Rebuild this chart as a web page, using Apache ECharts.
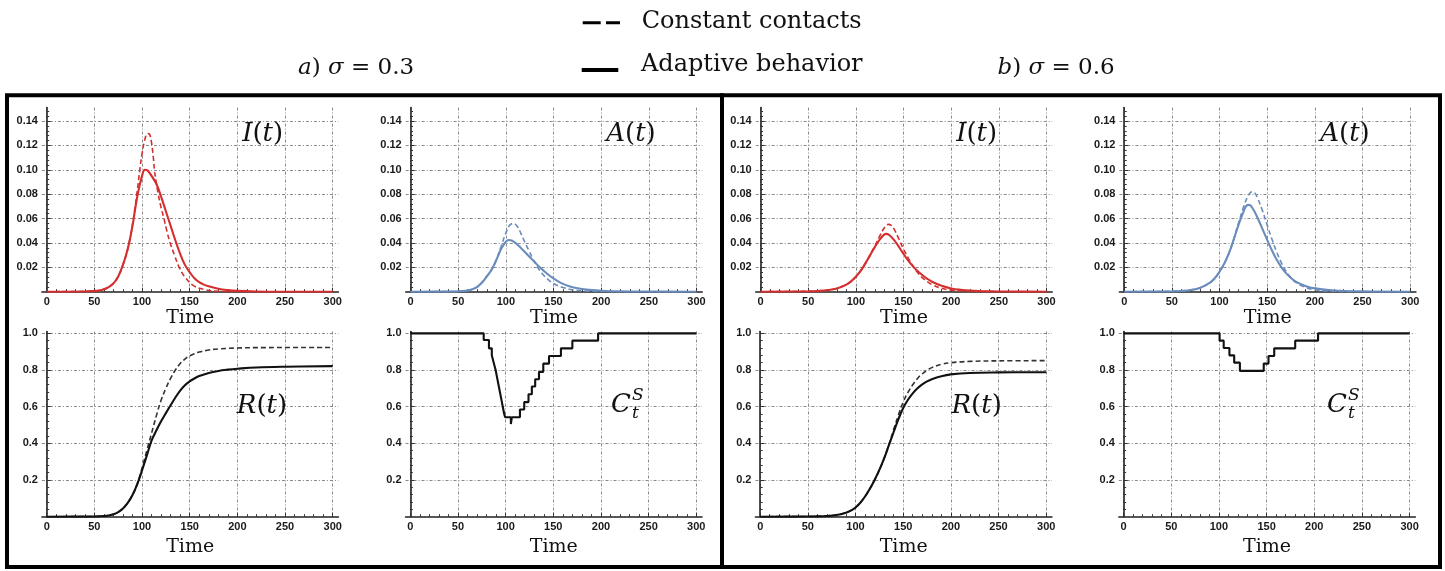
<!DOCTYPE html>
<html><head><meta charset="utf-8">
<script src="https://cdn.jsdelivr.net/npm/echarts@6.0.0/dist/echarts.min.js"></script>
<style>html,body{margin:0;padding:0;background:#fff}#c{width:1445px;height:571px}</style>
</head><body><div id="c"></div>
<script>
// ---------- data ----------
const timeTicks = [0, 50, 100, 150, 200, 250, 300];
const topTickLabels = [0.02, 0.04, 0.06, 0.08, 0.10, 0.12, 0.14];
const bottomTickLabels = [0.2, 0.4, 0.6, 0.8, 1.0];

// a) sigma = 0.3
const s03_I_adaptive = [[0,0],[40,0.0002],[50,0.0006],[55,0.001],[60,0.002],[65,0.0038],[70,0.0068],[75,0.0125],[80,0.022],[85,0.035],[90,0.054],[95,0.078],[100,0.095],[103,0.1],[106,0.0993],[110,0.095],[115,0.0885],[120,0.078],[125,0.066],[130,0.054],[135,0.042],[140,0.031],[145,0.022],[150,0.016],[155,0.011],[160,0.0078],[165,0.0058],[170,0.0044],[180,0.0024],[190,0.0013],[200,0.0007],[220,0.0002],[240,0],[300,0]];
const s03_I_constant = [[0,0],[40,0.0002],[50,0.0006],[55,0.001],[60,0.002],[65,0.0038],[70,0.0068],[75,0.0125],[80,0.022],[85,0.035],[90,0.055],[95,0.083],[98,0.102],[100,0.113],[103,0.125],[106,0.1298],[108,0.129],[110,0.122],[112,0.109],[113,0.1],[115,0.089],[117,0.08],[120,0.069],[123,0.06],[126,0.05],[129.5,0.04],[134,0.03],[139,0.02],[145,0.012],[154,0.005],[165,0.0018],[180,0.0004],[200,0],[300,0]];
const s03_A_adaptive = [[0,0],[40,0.0001],[50,0.0003],[55,0.0006],[60,0.001],[65,0.002],[70,0.004],[75,0.0075],[80,0.0125],[85,0.018],[90,0.026],[95,0.035],[100,0.041],[103,0.0424],[106,0.042],[110,0.04],[115,0.0365],[120,0.0325],[125,0.0285],[130,0.0245],[135,0.0205],[140,0.017],[145,0.0137],[150,0.011],[155,0.0085],[160,0.0064],[165,0.0048],[170,0.0037],[180,0.0022],[190,0.0013],[200,0.0008],[220,0.0003],[250,0.0001],[300,0]];
const s03_A_constant = [[0,0],[40,0.0001],[50,0.0003],[55,0.0006],[60,0.001],[65,0.002],[70,0.004],[75,0.0075],[80,0.0125],[85,0.018],[90,0.026],[95,0.037],[100,0.048],[104,0.0545],[108,0.056],[112,0.0535],[116,0.0475],[120,0.0405],[124,0.034],[128,0.0275],[133,0.0205],[138,0.015],[145,0.0095],[150,0.0068],[155,0.0048],[160,0.0034],[170,0.0016],[180,0.0008],[190,0.0004],[210,0.0001],[230,0],[300,0]];
const s03_R_adaptive = [[0,0],[40,0.0004],[50,0.001],[60,0.004],[65,0.007],[70,0.013],[75,0.025],[80,0.045],[85,0.075],[90,0.118],[95,0.178],[100,0.252],[105,0.333],[110,0.415],[115,0.47],[120,0.52],[125,0.565],[130,0.608],[135,0.65],[140,0.688],[145,0.717],[150,0.738],[155,0.754],[160,0.767],[170,0.784],[180,0.795],[190,0.802],[200,0.807],[220,0.814],[250,0.818],[300,0.821]];
const s03_R_constant = [[0,0],[40,0.0004],[50,0.001],[60,0.004],[65,0.007],[70,0.013],[75,0.025],[80,0.045],[85,0.075],[90,0.118],[95,0.178],[100,0.265],[105,0.36],[110,0.455],[115,0.55],[120,0.635],[125,0.7],[130,0.755],[135,0.8],[140,0.835],[145,0.86],[150,0.877],[160,0.898],[170,0.909],[180,0.915],[200,0.92],[220,0.922],[300,0.923]];
const s03_C = [[0,1],[77,0.964],[82.5,0.918],[85.5,0.88],[87.5,0.84],[89.5,0.8],[91,0.76],[92.5,0.72],[94,0.68],[95.5,0.64],[97,0.6],[98.5,0.56],[99.5,0.542],[105.5,0.505],[106.5,0.542],[115,0.585],[119.5,0.625],[124,0.668],[127.5,0.71],[131,0.75],[135,0.79],[139.5,0.835],[145.5,0.876],[158,0.918],[170,0.96],[197,1],[300,1]];

// b) sigma = 0.6
const s06_I_adaptive = [[0,0],[50,0.0003],[60,0.0006],[70,0.0012],[80,0.0026],[90,0.0058],[95,0.0085],[100,0.0122],[105,0.017],[110,0.0232],[115,0.03],[120,0.0368],[125,0.0428],[130,0.047],[132,0.0474],[135,0.0465],[140,0.0425],[145,0.037],[150,0.031],[155,0.0255],[160,0.0208],[165,0.0168],[170,0.0135],[175,0.0106],[180,0.0082],[190,0.0048],[200,0.0027],[210,0.0016],[220,0.001],[240,0.0003],[270,0.0001],[300,0]];
const s06_I_constant = [[0,0],[50,0.0003],[60,0.0006],[70,0.0012],[80,0.0026],[90,0.0058],[95,0.0085],[100,0.0122],[105,0.017],[110,0.0232],[115,0.0302],[120,0.0375],[125,0.0455],[130,0.0525],[134,0.0552],[137,0.0545],[140,0.0515],[145,0.0435],[150,0.035],[155,0.0275],[160,0.021],[165,0.0155],[170,0.0113],[175,0.0082],[180,0.0058],[190,0.0028],[200,0.0013],[220,0.0003],[240,0.0001],[260,0],[300,0]];
const s06_A_adaptive = [[0,0],[50,0.0003],[60,0.0007],[70,0.0014],[80,0.0033],[90,0.0074],[95,0.011],[100,0.0164],[105,0.0232],[110,0.0318],[115,0.043],[120,0.055],[125,0.0652],[128.5,0.0708],[131,0.0712],[135,0.068],[140,0.0605],[145,0.0515],[150,0.0425],[155,0.0338],[160,0.0262],[165,0.02],[170,0.015],[175,0.0112],[180,0.0083],[190,0.0047],[200,0.0027],[220,0.001],[250,0.0003],[300,0]];
const s06_A_constant = [[0,0],[50,0.0003],[60,0.0007],[70,0.0014],[80,0.0033],[90,0.0074],[95,0.011],[100,0.0164],[105,0.0232],[110,0.0318],[115,0.0435],[120,0.0565],[125,0.069],[130,0.0785],[134,0.082],[137,0.081],[140,0.0765],[145,0.0665],[150,0.0545],[155,0.043],[160,0.0325],[165,0.0235],[170,0.0165],[175,0.0113],[180,0.0077],[190,0.0035],[200,0.0016],[210,0.0007],[230,0.0001],[250,0],[300,0]];
const s06_R_adaptive = [[0,0],[50,0.001],[60,0.002],[70,0.004],[80,0.009],[90,0.022],[95,0.033],[100,0.05],[105,0.076],[110,0.11],[115,0.152],[120,0.2],[125,0.255],[130,0.318],[135,0.39],[140,0.462],[145,0.532],[150,0.593],[155,0.638],[160,0.673],[165,0.701],[170,0.722],[175,0.738],[180,0.75],[190,0.766],[200,0.776],[220,0.784],[250,0.787],[300,0.788]];
const s06_R_constant = [[0,0],[50,0.001],[60,0.002],[70,0.004],[80,0.009],[90,0.022],[95,0.033],[100,0.05],[105,0.076],[110,0.11],[115,0.152],[120,0.2],[125,0.255],[130,0.318],[135,0.392],[140,0.475],[145,0.555],[150,0.625],[155,0.678],[160,0.72],[165,0.754],[170,0.779],[175,0.798],[180,0.813],[190,0.831],[200,0.84],[220,0.847],[250,0.85],[300,0.851]];
const s06_C = [[0,1],[100.7,0.96],[105,0.92],[111,0.88],[116,0.84],[122,0.795],[147,0.835],[152,0.876],[158,0.918],[180,0.96],[204,1],[300,1]];

// ---------- layout / style ----------
const SERIF = '"DejaVu Serif", "Liberation Serif", serif';
const SANS = '"Liberation Sans", Arial, sans-serif';
const RED = '#d42f2f', BLUE = '#6a8cbc', BLACK = '#111111';
const X_MIN = -5, X_MAX = 306, PX_PER_T = 0.9533;

function minorValues(max, step, majorStep) {
  const out = [];
  for (let k = 1; k * step < max - 1e-9; k++) {
    const v = +(k * step).toFixed(6);
    const r = v / majorStep;
    if (Math.abs(r - Math.round(r)) > 1e-6) out.push(v);
  }
  return out;
}
const rows = [
  {top: 107.6, height: 184.1, max: 0.151, major: topTickLabels, minor: minorValues(0.151, 0.004, 0.02), digits: 2, nameGap: 17},
  {top: 331.5, height: 185.2, max: 1.01, major: bottomTickLabels, minor: minorValues(1.01, 0.04, 0.2), digits: 1, nameGap: 21}
];
const xMinor = minorValues(X_MAX, 10, 50);

const panels = [
  {x0: 46.7, row: 0, lines: [[s03_I_adaptive, RED, false], [s03_I_constant, RED, true]]},
  {x0: 410.5, row: 0, lines: [[s03_A_adaptive, BLUE, false], [s03_A_constant, BLUE, true]]},
  {x0: 46.7, row: 1, lines: [[s03_R_adaptive, BLACK, false], [s03_R_constant, '#333', true]]},
  {x0: 410.3, row: 1, lines: [[s03_C, BLACK, false, true]]},
  {x0: 760.5, row: 0, lines: [[s06_I_adaptive, RED, false], [s06_I_constant, RED, true]]},
  {x0: 1124.2, row: 0, lines: [[s06_A_adaptive, BLUE, false], [s06_A_constant, BLUE, true]]},
  {x0: 760.2, row: 1, lines: [[s06_R_adaptive, BLACK, false], [s06_R_constant, '#333', true]]},
  {x0: 1123.6, row: 1, lines: [[s06_C, BLACK, false, true]]}
];

const gridLine = {color: '#8a8a8a', width: 1, type: [3, 2, 1, 2]};
const grid = [], xAxis = [], yAxis = [], series = [];
panels.forEach((p, i) => {
  const r = rows[p.row];
  grid.push({left: p.x0 - 5 * PX_PER_T, width: 311 * PX_PER_T, top: r.top, height: r.height, containLabel: false});
  xAxis.push({
    type: 'value', gridIndex: i, min: X_MIN, max: X_MAX, position: 'bottom',
    axisLine: {show: true, onZero: true, lineStyle: {color: '#222', width: 1.6}},
    axisTick: {show: true, inside: true, length: 4, customValues: timeTicks, lineStyle: {color: '#333', width: 1}},
    axisLabel: {customValues: timeTicks, margin: 5, fontFamily: SANS, fontWeight: 'bold', fontSize: 11, color: '#1a1a1a'},
    splitLine: {show: true, lineStyle: gridLine},
    name: 'Time', nameLocation: 'middle', nameGap: r.nameGap,
    nameTextStyle: {fontFamily: SERIF, fontSize: 19, color: '#111'}
  });
  xAxis.push({
    type: 'value', gridIndex: i, min: X_MIN, max: X_MAX, position: 'bottom',
    axisLine: {show: false},
    axisTick: {show: true, inside: true, length: 2.5, customValues: xMinor, lineStyle: {color: '#333', width: 1}},
    axisLabel: {show: false}, splitLine: {show: false}
  });
  yAxis.push({
    type: 'value', gridIndex: i, min: 0, max: r.max, position: 'left',
    axisLine: {show: true, onZero: true, lineStyle: {color: '#222', width: 1.6}},
    axisTick: {show: true, inside: true, length: 4, customValues: r.major, lineStyle: {color: '#333', width: 1}},
    axisLabel: {customValues: r.major, margin: 4, fontFamily: SANS, fontWeight: 'bold', fontSize: 11, color: '#1a1a1a',
      formatter: v => v.toFixed(r.digits)},
    splitLine: {show: true, lineStyle: gridLine}
  });
  yAxis.push({
    type: 'value', gridIndex: i, min: 0, max: r.max, position: 'left',
    axisLine: {show: false},
    axisTick: {show: true, inside: true, length: 2.5, customValues: r.minor, lineStyle: {color: '#333', width: 1}},
    axisLabel: {show: false}, splitLine: {show: false}
  });
  p.lines.forEach(([data, color, dashed, step]) => {
    const s = {
      type: 'line', xAxisIndex: 2 * i, yAxisIndex: 2 * i, data: data, showSymbol: false, silent: true,
      lineStyle: {color: color, width: dashed ? 1.6 : 2.1, type: dashed ? [5, 3] : 'solid'},
      z: dashed ? 3 : 4
    };
    if (step) { s.step = 'end'; } else { s.smooth = 0.4; }
    series.push(s);
  });
});

function mathLabel(x, y, body) {
  return {type: 'text', x: x, y: y, silent: true, z: 50,
    style: {text: body, fill: '#111', fontFamily: SERIF, fontSize: 26, align: 'center', verticalAlign: 'middle',
      rich: {i: {fontFamily: SERIF, fontSize: 26, fontStyle: 'italic', fill: '#111'},
             n: {fontFamily: SERIF, fontSize: 26, fill: '#111'}}}};
}
function cLabel(x, y) {
  return [
    {type: 'text', x: x, y: y, silent: true, z: 50, style: {text: 'C', fill: '#111', fontFamily: SERIF, fontSize: 26, fontStyle: 'italic', align: 'right', verticalAlign: 'middle'}},
    {type: 'text', x: x + 1, y: y - 9, silent: true, z: 50, style: {text: 'S', fill: '#111', fontFamily: SERIF, fontSize: 17, fontStyle: 'italic', align: 'left', verticalAlign: 'middle'}},
    {type: 'text', x: x + 1, y: y + 9, silent: true, z: 50, style: {text: 't', fill: '#111', fontFamily: SERIF, fontSize: 17, fontStyle: 'italic', align: 'left', verticalAlign: 'middle'}}
  ];
}
function title(x, y, letter, val) {
  return {type: 'text', x: x, y: y, silent: true, z: 50,
    style: {text: '{i|' + letter + '}{n|) }{i|σ}{n| = ' + val + '}', fontFamily: SERIF, fontSize: 23, fill: '#111',
      align: 'center', verticalAlign: 'middle',
      rich: {i: {fontFamily: SERIF, fontSize: 23, fontStyle: 'italic', fill: '#111'},
             n: {fontFamily: SERIF, fontSize: 23, fill: '#111'}}}};
}

const graphic = [
  {type: 'rect', shape: {x: 7, y: 95.3, width: 715, height: 471.7}, style: {fill: 'none', stroke: '#000', lineWidth: 4}, z: 40, silent: true},
  {type: 'rect', shape: {x: 722, y: 95.3, width: 718, height: 471.7}, style: {fill: 'none', stroke: '#000', lineWidth: 4}, z: 40, silent: true},
  {type: 'line', shape: {x1: 582.7, y1: 22.7, x2: 620, y2: 22.7}, style: {stroke: '#000', lineWidth: 3, lineDash: [18, 5.3]}, silent: true},
  {type: 'line', shape: {x1: 581.7, y1: 70, x2: 618.3, y2: 70}, style: {stroke: '#000', lineWidth: 4}, silent: true},
  {type: 'text', x: 641.7, y: 21.5, silent: true, style: {text: 'Constant contacts', fontFamily: SERIF, fontSize: 24, fill: '#111', align: 'left', verticalAlign: 'middle'}},
  {type: 'text', x: 641, y: 64.5, silent: true, style: {text: 'Adaptive behavior', fontFamily: SERIF, fontSize: 24, fill: '#111', align: 'left', verticalAlign: 'middle'}},
  title(356, 68, 'a', '0.3'),
  title(1056, 68, 'b', '0.6'),
  mathLabel(262.7, 134, '{i|I}{n|(}{i|t}{n|)}'),
  mathLabel(631, 134, '{i|A}{n|(}{i|t}{n|)}'),
  mathLabel(262, 406, '{i|R}{n|(}{i|t}{n|)}'),
  mathLabel(976.7, 134, '{i|I}{n|(}{i|t}{n|)}'),
  mathLabel(1345, 134, '{i|A}{n|(}{i|t}{n|)}'),
  mathLabel(976.7, 406, '{i|R}{n|(}{i|t}{n|)}'),
  ...cLabel(631, 405),
  ...cLabel(1347, 405)
];

const chart = echarts.init(document.getElementById('c'), null, {renderer: 'canvas'});
chart.setOption({animation: false, backgroundColor: '#fff', grid, xAxis, yAxis, series, graphic});
</script></body></html>
